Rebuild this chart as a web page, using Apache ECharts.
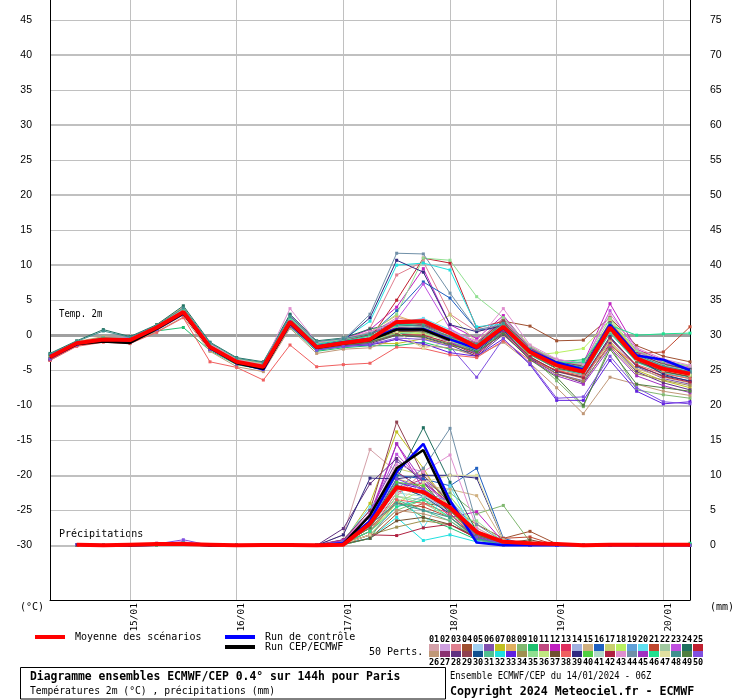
<!DOCTYPE html>
<html><head><meta charset="utf-8">
<script src="https://cdn.jsdelivr.net/npm/echarts@6/dist/echarts.min.js"></script>
<style>html,body{margin:0;padding:0;background:#fff}#c{width:740px;height:700px}</style>
</head><body><div id="c"></div>
<script>
// ---------- DATA ----------
const times = ["14/01 06Z","14/01 12Z","14/01 18Z","15/01 00Z","15/01 06Z","15/01 12Z","15/01 18Z",
 "16/01 00Z","16/01 06Z","16/01 12Z","16/01 18Z","17/01 00Z","17/01 06Z","17/01 12Z","17/01 18Z",
 "18/01 00Z","18/01 06Z","18/01 12Z","18/01 18Z","19/01 00Z","19/01 06Z","19/01 12Z","19/01 18Z",
 "20/01 00Z","20/01 06Z"];
const tempTicks = [-30,-25,-20,-15,-10,-5,0,5,10,15,20,25,30,35,40,45];
const tempMajorTicks = [-30,-20,-10,0,10,20,30,40];
const precipTicks = [0,5,10,15,20,25,30,35,40,45,50,55,60,65,70,75];

const memberNames = ["01","02","03","04","05","06","07","08","09","10","11","12","13","14","15","16","17","18","19","20","21","22","23","24","25",
 "26","27","28","29","30","31","32","33","34","35","36","37","38","39","40","41","42","43","44","45","46","47","48","49","50"];
const memberColors = ["#d4a0a8","#d0a0e0","#e08090","#a05030","#a0d0f0","#8050b0","#c0c020","#e0b060","#80b870","#20c070",
 "#c04880","#c020c0","#e03060","#a0b0e0","#d0b080","#2060c0","#c8d070","#b8f060","#60a0d8","#60e0f0",
 "#c04830","#a0c8a0","#c050e0","#207060","#c02030",
 "#c09878","#8a3070","#603080","#904050","#105090","#50c090","#20e0e0","#6020e0","#a09050","#90e090",
 "#c0e880","#705030","#f06060","#302880","#50d040","#b0d8c8","#b02040","#e090d0","#7090a8","#a030c0",
 "#20e090","#e0e0a0","#409090","#508040","#8050e0"];

// 2m temperature (°C), every 6h from 14/01 06Z
const meanTemp = [-3.1,-1.15,-0.6,-0.7,1.1,3.3,-1.7,-3.8,-4.5,1.9,-1.7,-1.1,-0.6,1.9,2.0,0.3,-1.7,1.2,-2.4,-4.3,-5.2,1.1,-3.3,-4.8,-5.5];
const ctrlTemp = [-3.0,-1.2,-0.6,-0.8,1.0,3.3,-1.7,-3.9,-4.9,2.0,-1.6,-1.0,-0.5,0.9,0.9,-0.6,-1.9,1.0,-2.2,-3.9,-4.9,1.5,-2.9,-3.5,-5.0];
const cepTemp = [-3.2,-1.3,-0.9,-1.1,0.9,3.1,-1.8,-4.0,-4.8,1.7,-1.8,-1.2,-0.7,0.8,0.8,-0.7];
const memberTemp = [
 [-3.2,-1.3,-0.5,-0.4,1.2,3.4,-1.5,-3.9,-4.4,2.2,-1.4,-0.8,0.2,2.5,1.8,0.0,-1.2,1.8,-2.0,-4.0,-4.8,1.5,-2.8,-4.2,-5.0],
 [-3.0,-1.0,-0.3,-0.8,1.0,3.6,-1.8,-3.6,-4.2,2.5,-1.2,-1.0,-0.5,1.0,0.8,-0.2,-1.5,2.2,-1.8,-3.5,-4.5,2.0,-2.5,-3.8,-4.6],
 [-3.3,-1.2,-0.7,-0.6,1.3,3.1,-1.6,-3.8,-4.6,2.0,-1.8,-0.9,1.0,8.6,10.5,3.0,0.5,1.5,-2.6,-4.4,-5.5,0.8,-3.5,-5.0,-5.8],
 [-2.9,-1.1,-0.4,-0.9,0.8,3.0,-1.4,-3.5,-4.3,1.8,-1.5,-1.2,-0.8,0.5,0.7,-0.5,-1.0,2.0,1.3,-0.8,-0.7,2.5,-1.5,-3.0,-3.8],
 [-3.1,-1.4,-0.8,-0.5,1.1,3.5,-1.9,-4.0,-4.7,2.3,-1.6,-1.3,-1.0,1.5,2.0,0.5,-1.8,0.8,-2.8,-4.6,-5.8,0.5,-3.8,-5.2,-6.0],
 [-3.4,-1.3,-0.6,-0.3,1.4,3.8,-1.2,-3.7,-4.1,2.8,-1.0,-0.6,0.3,1.8,1.2,-0.8,-2.5,0.5,-3.2,-5.5,-6.5,-0.5,-4.5,-6.2,-7.0],
 [-3.0,-1.0,-0.5,-0.7,1.2,3.2,-1.7,-3.8,-4.5,1.6,-2.0,-1.5,-1.2,-1.2,-0.5,-1.5,-2.0,0.2,-3.5,-5.0,-6.0,-1.0,-5.0,-6.5,-7.5],
 [-2.8,-0.9,-0.2,-0.6,1.5,4.0,-1.3,-3.4,-4.0,2.6,-1.3,-0.7,0.5,2.8,1.5,0.2,-1.0,2.5,-1.5,-3.8,-4.2,1.8,-2.2,-4.0,-4.8],
 [-3.2,-1.2,-0.6,-0.8,1.0,3.3,-1.9,-4.2,-4.8,1.5,-2.2,-1.6,-0.9,0.8,1.0,-1.0,-1.8,1.0,-3.0,-6.5,-10.2,-1.5,-7.8,-8.5,-9.0],
 [-3.5,-1.4,-0.9,-1.0,0.6,1.1,-2.2,-4.2,-4.9,1.2,-2.3,-1.8,-1.5,-1.5,-1.0,-2.0,-2.5,0.5,-2.2,-3.8,-3.5,0.5,-3.8,-5.2,-6.0],
 [-3.1,-1.1,-0.5,-0.7,1.1,3.4,-1.6,-3.7,-4.4,2.0,-1.7,-1.1,-0.2,1.2,1.6,0.0,-1.5,1.3,-2.2,-4.2,-5.0,1.2,-3.2,-4.6,-5.5],
 [-3.0,-1.2,-0.4,-0.5,1.3,3.7,-1.4,-3.6,-4.3,2.4,-1.4,-0.5,0.8,4.0,9.5,1.5,-0.5,2.8,-1.8,-3.5,-4.0,4.5,-2.0,-3.6,-4.5],
 [-3.3,-1.3,-0.7,-0.9,0.9,3.0,-1.8,-3.9,-4.6,1.7,-1.9,-1.4,-0.7,0.6,0.4,-0.8,-2.2,0.9,-2.7,-4.8,-5.4,0.6,-3.6,-5.0,-5.6],
 [-2.9,-1.0,-0.3,-0.4,1.4,3.5,-1.5,-3.5,-4.2,2.1,-1.1,-0.8,-0.3,1.4,1.9,0.4,-1.3,1.6,-2.3,-4.0,-4.6,1.9,-3.0,-4.4,-5.2],
 [-3.2,-1.2,-0.6,-0.6,1.1,3.2,-1.7,-3.8,-4.5,1.9,-1.6,-1.0,-0.4,0.3,0.0,-1.2,-2.0,0.0,-3.2,-5.2,-6.2,-0.8,-4.8,-6.0,-6.8],
 [-3.1,-1.1,-0.5,-0.7,1.2,3.4,-1.6,-3.7,-4.4,2.2,-1.5,-0.9,0.0,3.5,7.6,5.3,0.8,1.0,-2.5,-4.5,-5.0,1.0,-3.4,-4.8,-5.4],
 [-3.0,-1.0,-0.4,-0.6,1.2,3.6,-1.5,-3.6,-4.3,2.4,-1.3,-0.9,-0.6,0.9,0.6,2.9,-1.0,1.8,-2.0,-4.1,-4.4,1.6,-2.9,-4.3,-5.1],
 [-3.3,-1.3,-0.7,-0.8,1.0,3.1,-1.8,-3.9,-4.6,1.8,-1.8,-1.2,-0.8,0.4,0.2,-0.6,-1.9,1.4,-2.9,-2.5,-1.9,2.2,-2.4,-3.8,-4.4],
 [-3.2,-1.2,-0.5,-0.5,1.3,3.3,-1.6,-3.8,-4.5,2.1,-1.6,-1.0,-0.3,1.3,1.4,-0.3,-1.6,1.2,-2.4,-4.3,-5.1,1.1,-3.3,-4.9,-5.7],
 [-3.4,-1.4,-0.8,-0.9,0.8,3.0,-2.0,-4.1,-4.8,1.4,-2.1,-1.5,-1.1,1.8,2.4,0.8,-1.4,0.6,-2.8,-4.7,-5.6,0.4,-3.9,-5.3,-6.1],
 [-3.1,-1.1,-0.4,-0.6,1.1,3.2,-1.7,-3.7,-4.4,2.0,-1.5,-0.9,-0.2,1.1,1.3,-0.1,-1.4,1.7,-2.1,-4.0,-4.7,1.4,-2.6,-2.4,1.2],
 [-3.0,-1.1,-0.5,-0.7,1.0,3.4,-1.6,-3.6,-4.3,2.3,-1.4,-1.1,-0.5,0.7,0.9,-0.4,-1.7,1.5,-2.3,-4.2,-4.9,1.3,-3.1,-4.7,-5.3],
 [-3.2,-1.3,-0.6,-0.8,1.2,3.5,-1.5,-3.8,-4.5,2.9,-1.2,-0.7,0.4,2.2,7.3,0.9,-1.1,2.4,-1.7,-3.7,-4.3,3.5,-2.3,-3.9,-4.7],
 [-2.6,-0.8,0.8,-0.2,1.5,4.2,-1.0,-3.2,-3.8,3.0,-0.8,-0.4,0.9,1.6,1.0,-0.6,-1.6,1.9,-2.2,-3.9,-4.5,1.7,-2.7,-4.1,-4.9],
 [-3.3,-1.2,-0.7,-0.9,1.1,3.3,-1.8,-3.9,-4.6,1.9,-1.7,-1.2,-0.5,5.0,11.0,10.3,1.0,2.0,-2.6,-4.5,-5.3,0.9,-3.6,-5.1,-5.9],
 [-3.6,-1.5,-0.9,-1.1,0.5,2.6,-2.3,-4.5,-5.2,1.0,-2.6,-2.0,-1.8,-0.5,-1.5,-1.8,-3.0,-1.0,-4.0,-7.5,-11.2,-6.0,-7.0,-8.0,-8.6],
 [-3.1,-1.2,-0.5,-0.7,1.1,3.4,-1.6,-3.7,-4.4,2.1,-1.6,-1.0,-0.4,1.0,1.5,-0.2,-1.5,1.3,-2.4,-4.2,-5.0,1.0,-3.3,-4.8,-5.5],
 [-3.5,-1.4,-0.8,-1.0,0.7,2.9,-2.0,-4.1,-4.8,1.3,-2.0,-1.5,-1.2,0.0,-0.3,-1.4,-3.0,0.1,-3.3,-5.5,-6.8,-1.2,-5.2,-6.8,-7.8],
 [-3.0,-1.0,-0.3,-0.6,1.3,3.6,-1.4,-3.6,-4.2,2.5,-1.2,-0.8,0.1,1.7,1.6,0.1,-1.2,2.1,-1.9,-3.8,-4.4,1.8,-2.6,-4.2,-5.0],
 [-3.2,-1.2,-0.6,-0.7,1.1,3.3,-1.7,-3.8,-4.5,2.0,-1.7,-1.1,-0.6,0.8,0.7,-0.7,-2.3,0.7,-3.1,-5.2,-6.0,-0.2,-4.4,-5.8,-6.5],
 [-3.3,-1.3,-0.7,-0.8,1.0,3.2,-1.8,-3.9,-4.6,1.8,-1.8,-1.3,-0.9,0.2,0.5,-1.0,-2.1,1.0,-2.8,-4.8,-5.6,0.3,-3.8,-5.4,-6.2],
 [-3.0,-1.1,-0.4,-0.5,1.3,3.7,-1.4,-3.6,-4.3,2.6,-1.3,-0.6,2.0,10.0,10.3,9.3,1.2,1.6,-2.2,-4.1,-4.7,1.6,-3.0,-4.5,-5.2],
 [-3.4,-1.4,-0.8,-0.9,0.8,3.0,-2.0,-4.0,-4.7,1.5,-2.1,-1.6,-1.4,-0.6,-1.2,-2.5,-3.0,-0.5,-4.2,-9.3,-9.3,-3.6,-8.0,-9.8,-9.5],
 [-3.1,-1.2,-0.5,-0.7,1.1,3.3,-1.6,-3.7,-4.4,2.1,-1.6,-1.0,-0.5,1.0,1.1,-0.3,-1.6,0.5,-3.0,-5.6,-6.6,-1.5,-5.5,-6.4,-7.2],
 [-2.9,-1.0,-0.3,-0.5,1.4,3.7,-1.4,-3.5,-4.1,2.5,-1.1,-0.6,0.3,3.0,11.0,10.7,5.5,2.5,-1.6,-3.6,-4.2,2.4,-2.2,-3.7,-4.4],
 [-3.2,-1.2,-0.6,-0.7,1.1,3.3,-1.7,-3.8,-4.5,2.0,-1.7,-1.1,-0.5,0.6,0.3,-0.9,-1.9,1.1,-2.6,-4.6,-5.3,0.6,-3.5,-5.0,-5.8],
 [-3.3,-1.3,-0.6,-0.8,1.0,3.2,-1.8,-3.9,-4.6,1.8,-1.8,-1.2,-0.7,0.5,0.6,-0.6,-1.8,1.2,-2.7,-4.7,-5.4,0.7,-3.7,-5.2,-5.9],
 [-3.6,-1.6,-1.0,-1.2,0.4,2.5,-3.8,-4.6,-6.4,-1.4,-4.5,-4.2,-4.0,-1.7,-1.9,-2.8,-3.2,-0.8,-3.6,-5.0,-5.8,-1.5,-4.2,-5.5,-6.2],
 [-3.0,-1.1,-0.4,-0.6,1.2,3.5,-1.5,-3.7,-4.3,2.3,-1.4,-0.8,2.5,10.7,9.0,1.5,0.5,1.4,-2.4,-4.3,-5.0,1.2,-3.3,-5.6,-6.6],
 [-3.2,-1.2,-0.6,-0.8,1.0,3.4,-1.6,-3.8,-4.5,2.0,-1.6,-1.0,-0.6,0.9,0.8,-0.5,-1.7,1.1,-2.5,-4.4,-5.2,0.9,-3.4,-4.9,-5.7],
 [-3.1,-1.1,-0.5,-0.6,1.2,3.5,-1.5,-3.6,-4.3,2.2,-1.4,-0.9,-0.2,1.3,1.2,0.0,-1.3,1.6,-2.1,-3.9,-4.6,1.5,-2.8,-4.3,-5.1],
 [-3.4,-1.3,-0.7,-0.9,0.9,3.1,-1.9,-4.0,-4.7,1.6,-1.9,-1.4,-1.0,0.1,0.0,-1.1,-2.8,0.4,-3.1,-5.1,-6.1,-0.4,-4.3,-5.9,-6.7],
 [-3.0,-1.0,-0.4,-0.5,1.3,3.6,-1.3,-3.5,-4.2,3.8,-1.0,-0.5,0.5,2.0,2.2,0.6,-0.8,3.8,-1.4,-3.4,-4.1,3.0,-1.8,-3.4,-4.3],
 [-3.1,-1.2,-0.5,-0.7,1.1,3.4,-1.6,-3.7,-4.4,2.1,-1.5,-0.7,3.0,11.7,11.6,6.0,0.8,1.5,-2.3,-4.2,-4.8,1.3,-3.1,-4.6,-5.3],
 [-3.3,-1.3,-0.7,-0.8,1.0,3.2,-1.7,-3.9,-4.6,1.9,-1.8,-1.2,-0.6,0.7,0.8,-1.0,-2.6,0.3,-3.4,-5.8,-7.0,-1.8,-5.8,-7.2,-8.2],
 [-3.0,-1.1,-0.4,-0.6,1.2,3.5,-1.5,-3.7,-4.3,2.2,-1.4,-0.8,-0.1,1.4,1.7,0.3,-1.4,1.4,-2.2,-4.0,-3.8,1.4,0.0,0.2,0.3],
 [-3.2,-1.2,-0.6,-0.7,1.1,3.3,-1.7,-3.8,-4.5,2.0,-1.7,-1.0,-0.4,0.5,-1.9,-0.8,-1.6,1.0,-2.6,-4.5,-5.1,0.8,-3.5,-5.0,-5.7],
 [-2.7,-0.9,0.6,-0.3,1.4,3.9,-1.1,-3.3,-3.9,2.7,-0.9,-0.5,0.2,1.5,1.3,-0.2,-1.3,1.7,-2.0,-3.9,-4.6,1.6,-2.8,-4.4,-5.2],
 [-3.3,-1.3,-0.7,-0.9,0.9,3.1,-1.9,-4.0,-4.7,1.6,-2.0,-1.4,-1.0,0.0,-0.2,-1.3,-2.4,0.2,-3.5,-6.0,-10.0,-2.0,-7.0,-7.5,-8.0],
 [-3.4,-1.4,-0.8,-1.0,0.8,3.0,-2.0,-4.1,-4.8,1.4,-2.1,-1.6,-1.3,-0.4,-0.6,-1.6,-6.0,-0.5,-4.0,-9.0,-8.8,-3.0,-7.5,-9.5,-9.8]
];

// 6-hourly precipitation (mm), from 14/01 12Z
const meanPrecip = [0.1,0,0.1,0.2,0.2,0.1,0,0.05,0.05,0,0.1,3.1,8.3,7.6,5.4,1.9,0.5,0.3,0.2,0,0.1,0.1,0.1,0.1];
const ctrlPrecip = [0.1,0,0,0.1,0.2,0,0,0,0,0,0.3,3.5,10.5,14.5,6.4,0.4,0,0,0,0,0,0,0,0];
const cepPrecip = [0.1,0,0,0.1,0.2,0,0,0,0,0,0.2,4.3,11.0,13.6,5.7];
const memberPrecip = [
 [0.1,0,0.1,0.2,0.2,0,0,0,0,0,1.5,13.7,10.5,8.0,5.0,1.0,0.3,0,0,0,0,0,0,0],
 [0.1,0,0,0.1,0.2,0.1,0,0,0,0,0.3,3.5,9.0,7.5,4.5,1.5,0.2,0,0,0,0,0,0,0],
 [0,0,0.1,0.3,0.2,0,0,0,0,0,0.2,2.0,7.0,10.5,6.0,2.0,0.5,0.1,0,0,0,0,0,0],
 [0.1,0,0,0.2,0.3,0,0,0,0,0,0.1,1.0,4.5,6.0,5.5,3.0,1.0,2.0,0.2,0,0,0,0,0],
 [0,0,0,0.1,0.1,0,0,0,0,0,0.4,4.0,8.5,9.0,7.0,2.0,0.3,0,0,0,0,0,0,0],
 [0.1,0,0.1,0.2,0.3,0.1,0,0,0,0.1,0.8,5.0,12.0,9.5,6.5,1.2,0.2,0,0,0,0,0,0,0],
 [0,0,0,0.1,0.2,0,0,0,0,0,0.5,6.0,16.2,11.0,5.0,1.0,0.2,0,0,0,0,0,0,0],
 [0.1,0,0,0.2,0.2,0,0,0,0,0,0.2,2.5,9.5,8.5,4.0,0.8,0.1,0,0,0,0,0,0,0],
 [0,0,0.1,0.2,0.3,0,0,0,0,0,0.3,1.5,5.0,6.5,7.5,4.5,5.7,0.5,0,0,0,0,0,0],
 [0.1,0,0,0.1,0.2,0,0,0,0,0,0.1,1.0,6.4,4.0,2.5,0.8,0.2,0,0,0,0,0,0,0],
 [0,0,0.1,0.2,0.3,0.1,0,0,0,0,0.6,3.0,8.0,9.5,5.5,1.5,0.3,0,0,0,0,0,0,0],
 [0.1,0,0,0.3,0.5,0,0,0,0,0,0.8,4.5,14.5,8.0,4.0,4.8,0.5,0,0,0,0,0,0,0],
 [0,0,0,0.1,0.2,0,0,0,0,0,0.2,2.0,7.5,9.0,6.0,1.0,0.1,0,0,0,0,0,0,0],
 [0.1,0,0.1,0.2,0.2,0,0,0,0,0,0.3,3.0,8.5,7.0,5.0,1.8,0.4,0,0,0,0,0,0,0],
 [0,0,0,0.2,0.3,0,0,0,0,0,0.2,2.5,9.0,8.5,8.0,7.1,0.6,0,0,0,0,0,0,0],
 [0.1,0,0,0.1,0.2,0,0,0,0,0,0.4,3.5,10.0,9.5,8.5,11.0,1.0,0,0,0,0,0,0,0],
 [0,0,0.1,0.2,0.3,0.1,0,0,0,0,0.5,4.0,11.0,10.0,6.5,1.5,0.2,0,0,0,0,0,0,0],
 [0.1,0,0,0.2,0.2,0,0,0,0,0,0.3,2.0,6.0,8.0,7.0,2.5,0.5,0,0,0,0,0,0,0],
 [0,0,0,0.1,0.2,0,0,0,0,0,0.2,1.5,5.5,7.0,6.5,2.0,0.3,0,0,0,0,0,0,0],
 [0.1,0,0.1,0.2,0.3,0,0,0,0,0,0.7,5.5,9.0,2.5,8.5,1.0,0.2,0,0,0,0,0,0,0],
 [0,0,0,0.2,0.2,0,0,0,0,0,0.3,2.5,6.0,5.5,4.0,1.2,1.0,1.2,0,0,0,0,0,0],
 [0.1,0,0,0.1,0.2,0,0,0,0,0,0.2,2.0,7.0,6.5,5.0,1.5,0.2,0,0,0,0,0,0,0],
 [0,0,0.1,0.2,0.4,0.1,0,0,0,0,0.6,4.5,13.0,9.0,5.5,1.0,0.2,0,0,0,0,0,0,0],
 [0.1,0,0,0.2,0.2,0,0,0,0,0,0.4,3.0,9.5,16.8,9.0,2.0,0.3,0,0,0,0,0,0,0],
 [0,0,0,0.1,0.3,0,0,0,0,0,0.3,2.5,8.0,7.5,5.5,1.5,0.2,0,0,0,0,0,0,0],
 [0.1,0,0.1,0.2,0.2,0,0,0,0,0,0.2,1.5,5.0,4.5,3.5,1.0,0.1,0,0,0,0,0,0,0],
 [0,0,0,0.2,0.3,0,0,0,0,0,0.5,3.5,10.5,8.0,5.0,1.2,0.2,0,0,0,0,0,0,0],
 [0.1,0,0,0.1,0.2,0,0,0,0,0,2.4,8.8,12.4,9.0,4.5,1.0,0.2,0,0,0,0,0,0,0],
 [0,0,0.1,0.2,0.3,0.1,0,0,0,0,0.8,5.0,17.6,10.0,6.0,1.5,0.3,0,0,0,0,0,0,0],
 [0.1,0,0,0.2,0.2,0,0,0,0,0,0.3,2.5,8.5,7.0,4.5,1.0,0.1,0,0,0,0,0,0,0],
 [0,0,0,0.1,0.2,0,0,0,0,0,0.2,2.0,6.5,5.0,3.5,0.8,0.1,0,0,0,0,0,0,0],
 [0.1,0,0.1,0.2,0.3,0,0,0,0,0,0.3,1.0,4.0,0.7,1.5,0.5,0.1,0,0,0,0,0,0,0],
 [0,0,0,0.2,0.2,0,0,0,0,0,0.4,3.0,9.0,8.0,5.5,2.0,0.3,0,0,0,0,0,0,0],
 [0.1,0,0,0.1,0.3,0,0,0,0,0,0.2,1.5,2.6,3.5,3.0,1.0,0.2,0,0,0,0,0,0,0],
 [0,0,0.1,0.2,0.2,0,0,0,0,0,0.3,2.0,7.0,6.0,4.0,3.5,0.5,0,0,0,0,0,0,0],
 [0.1,0,0,0.2,0.3,0.1,0,0,0,0,0.5,3.5,8.0,7.5,6.0,1.5,0.2,0,0,0,0,0,0,0],
 [0,0,0,0.1,0.2,0,0,0,0,0,0.2,1.0,3.5,4.0,3.0,1.2,0.3,0.8,0,0,0,0,0,0],
 [0.1,0,0.1,0.2,0.2,0,0,0,0,0,0.3,2.0,6.5,6.0,4.5,1.0,0.1,0,0,0,0,0,0,0],
 [0,0,0,0.2,0.3,0,0,0,0,0,1.5,9.6,9.5,10.0,10.0,9.6,0.8,0,0,0,0,0,0,0],
 [0.1,0,0,0.1,0.2,0,0,0,0,0,0.4,3.0,9.0,8.5,5.0,1.5,0.2,0,0,0,0,0,0,0],
 [0,0,0.1,0.2,0.3,0,0,0,0,0,0.3,2.5,7.5,7.0,5.5,1.8,0.3,0,0,0,0,0,0,0],
 [0.1,0,0,0.2,0.2,0,0,0,0,0,0.2,1.5,1.4,2.5,3.0,1.0,0.2,0,0,0,0,0,0,0],
 [0,0,0,0.1,0.2,0.1,0,0,0,0,0.6,4.5,11.5,10.5,12.9,2.5,0.4,0,0,0,0,0,0,0],
 [0.1,0,0.1,0.2,0.3,0,0,0,0,0,0.4,3.0,8.0,11.0,16.7,3.0,0.5,0,0,0,0,0,0,0],
 [0,0,0,0.2,0.2,0,0,0,0,0,0.7,4.0,14.5,9.0,6.0,1.5,0.2,0,0,0,0,0,0,0],
 [0.1,0,0,0.1,0.3,0,0,0,0,0,0.3,2.0,5.5,6.5,4.0,1.0,0.1,0,0,0,0,0,0,0.3],
 [0,0,0.1,0.2,0.2,0,0,0,0,0,0.2,1.5,6.0,9.0,10.0,10.0,0.8,0,0,0,0,0,0,0],
 [0.1,0,0,0.2,0.3,0,0,0,0,0,0.5,3.0,6.0,5.0,4.0,1.0,0.2,0,0,0,0,0,0,0],
 [0,0,0,0.1,0.2,0,0,0,0,0,0.3,2.5,8.5,7.5,5.0,1.5,0.3,0,0,0,0,0,0,0],
 [0.1,0,0.1,0.2,0.8,0,0,0,0,0,0.5,3.5,9.5,8.0,5.5,1.2,0.2,0,0,0,0,0,0,0]
];

// ---------- CHART ----------
const MONO = "'DejaVu Sans Mono', 'Liberation Mono', monospace";
const TMIN = -37.8, TMAX = 47.85, PREC_OFFSET = 30; // precip 0 mm sits on the -30 °C line
const isDay = (i) => times[i].slice(6, 8) === '00';
const withLead = (arr) => [null].concat(arr); // precipitation starts at +6h

const series = [];
memberTemp.forEach((d, m) => {
  series.push({type:'line', name:'P'+memberNames[m], data:d, yAxisIndex:0, silent:true,
    symbol:'rect', symbolSize:3, showSymbol:true, z:2,
    lineStyle:{width:1, color:memberColors[m]}, itemStyle:{color:memberColors[m]}});
});
memberPrecip.forEach((d, m) => {
  series.push({type:'line', name:'P'+memberNames[m], data:withLead(d), yAxisIndex:1, silent:true,
    symbol:'rect', symbolSize:3, showSymbol:true, z:2,
    lineStyle:{width:1, color:memberColors[m]}, itemStyle:{color:memberColors[m]}});
});
const mainLine = (name, data, axis, color, width, z) => ({type:'line', name, data, yAxisIndex:axis, silent:true,
  showSymbol:false, symbol:'none', z, color, lineStyle:{width, color}, itemStyle:{color}});
series.push(mainLine('Run de contrôle', ctrlTemp, 0, '#0000ff', 2.5, 5));
series.push(mainLine('Run de contrôle', withLead(ctrlPrecip), 1, '#0000ff', 2.5, 5));
series.push(mainLine('Run CEP/ECMWF', cepTemp, 0, '#000000', 2.5, 6));
series.push(mainLine('Run CEP/ECMWF', withLead(cepPrecip), 1, '#000000', 2.5, 6));
series.push(mainLine('Moyenne des scénarios', meanTemp, 0, '#ff0000', 4, 7));
series.push(mainLine('Moyenne des scénarios', withLead(meanPrecip), 1, '#ff0000', 4, 7));

const graphics = [];
const txt = (x, y, text, font, extra) => Object.assign({type:'text', x, y, silent:true,
  style:{text, font, fill:'#000', textVerticalAlign:'middle', textAlign:'left'}}, extra || {});
graphics.push(txt(20, 607, '(°C)', '10px ' + MONO));
graphics.push(txt(710, 607, '(mm)', '10px ' + MONO));
graphics.push(txt(59, 314, 'Temp. 2m', '10px ' + MONO, {scaleX:0.9}));
graphics.push(txt(59, 534, 'Précipitations', '10px ' + MONO));
graphics.push(txt(369, 652, '50 Perts.', '10px ' + MONO));
memberColors.forEach((c, k) => {
  const row = k < 25 ? 0 : 1, col = k % 25;
  const x0 = 429 + 11 * col;
  graphics.push({type:'rect', silent:true, shape:{x:x0, y: row ? 651 : 644, width:10, height: row ? 6 : 7}, style:{fill:c}});
  graphics.push({type:'text', silent:true, x:x0 + 5, y: row ? 663 : 639.5,
    style:{text:memberNames[k], font:'bold 8.5px ' + MONO, fill:'#000', textAlign:'center', textVerticalAlign:'middle'}});
});
graphics.push({type:'rect', silent:true, shape:{x:20.5, y:667.5, width:425, height:31.5}, style:{fill:'#fff', stroke:'#000', lineWidth:1}});
graphics.push(txt(30, 677.5, 'Diagramme ensembles ECMWF/CEP 0.4° sur 144h pour Paris', 'bold 11.4px ' + MONO));
graphics.push(txt(30, 691.5, 'Températures 2m (°C) , précipitations (mm)', '9.7px ' + MONO));
graphics.push(txt(450, 676.5, 'Ensemble ECMWF/CEP du 14/01/2024 - 06Z', '11px ' + MONO, {scaleX:0.8}));
graphics.push(txt(450, 692, 'Copyright 2024 Meteociel.fr - ECMWF', 'bold 11.6px ' + MONO));

const hiddenAxis = (ticks, lineStyle) => ({type:'value', position:'left', min:TMIN, max:TMAX,
  axisLine:{show:false}, axisTick:{show:false, customValues:ticks}, axisLabel:{show:false},
  splitLine:{show:true, lineStyle}});
const labelStyle = {fontFamily:"'Liberation Sans', Arial, sans-serif", fontSize:10.5, color:'#000', padding:[6,0,0,0]};

const chart = echarts.init(document.getElementById('c'), null, {renderer:'canvas'});
chart.setOption({
  animation:false,
  backgroundColor:'#fff',
  grid:{left:50, right:50, top:0, bottom:100, containLabel:false, outerBoundsMode:'none'},
  xAxis:{type:'category', data:times, boundaryGap:false,
    axisLine:{onZero:false, lineStyle:{color:'#000', width:1}},
    axisTick:{show:false},
    axisLabel:{interval:(i) => isDay(i), rotate:90, formatter:(v) => v.slice(0,5), margin:3,
      fontFamily:MONO, fontSize:9.5, color:'#000', verticalAlign:'top'},
    splitLine:{show:true, interval:(i) => isDay(i), lineStyle:{color:'#c0c0c0', width:1}}},
  yAxis:[
    {type:'value', position:'left', min:TMIN, max:TMAX,
      axisLine:{show:true, lineStyle:{color:'#000', width:1}},
      axisTick:{show:false, customValues:tempTicks},
      axisLabel:Object.assign({customValues:tempTicks, margin:18}, labelStyle),
      splitLine:{show:true, lineStyle:{color:'#c0c0c0', width:1}}},
    {type:'value', position:'right', min:TMIN + PREC_OFFSET, max:TMAX + PREC_OFFSET,
      axisLine:{show:true, lineStyle:{color:'#000', width:1}},
      axisTick:{show:false, customValues:precipTicks},
      axisLabel:Object.assign({customValues:precipTicks, margin:20}, labelStyle),
      splitLine:{show:false}},
    hiddenAxis(tempMajorTicks, {color:'#c0c0c0', width:2}),
    hiddenAxis([0], {color:'#a0a0a0', width:3})
  ],
  legend:[
    {left:35, top:632, padding:0, selectedMode:false, icon:'rect', itemWidth:30, itemHeight:4, itemGap:0,
      data:['Moyenne des scénarios'], textStyle:{fontFamily:MONO, fontSize:10, color:'#000', padding:[0,0,0,5]}},
    {left:225, top:632, padding:0, orient:'vertical', selectedMode:false, icon:'rect', itemWidth:30, itemHeight:4, itemGap:0,
      data:['Run de contrôle','Run CEP/ECMWF'], textStyle:{fontFamily:MONO, fontSize:10, color:'#000', lineHeight:10, padding:[0,0,0,5]}}
  ],
  graphic:graphics,
  series
});
</script></body></html>
